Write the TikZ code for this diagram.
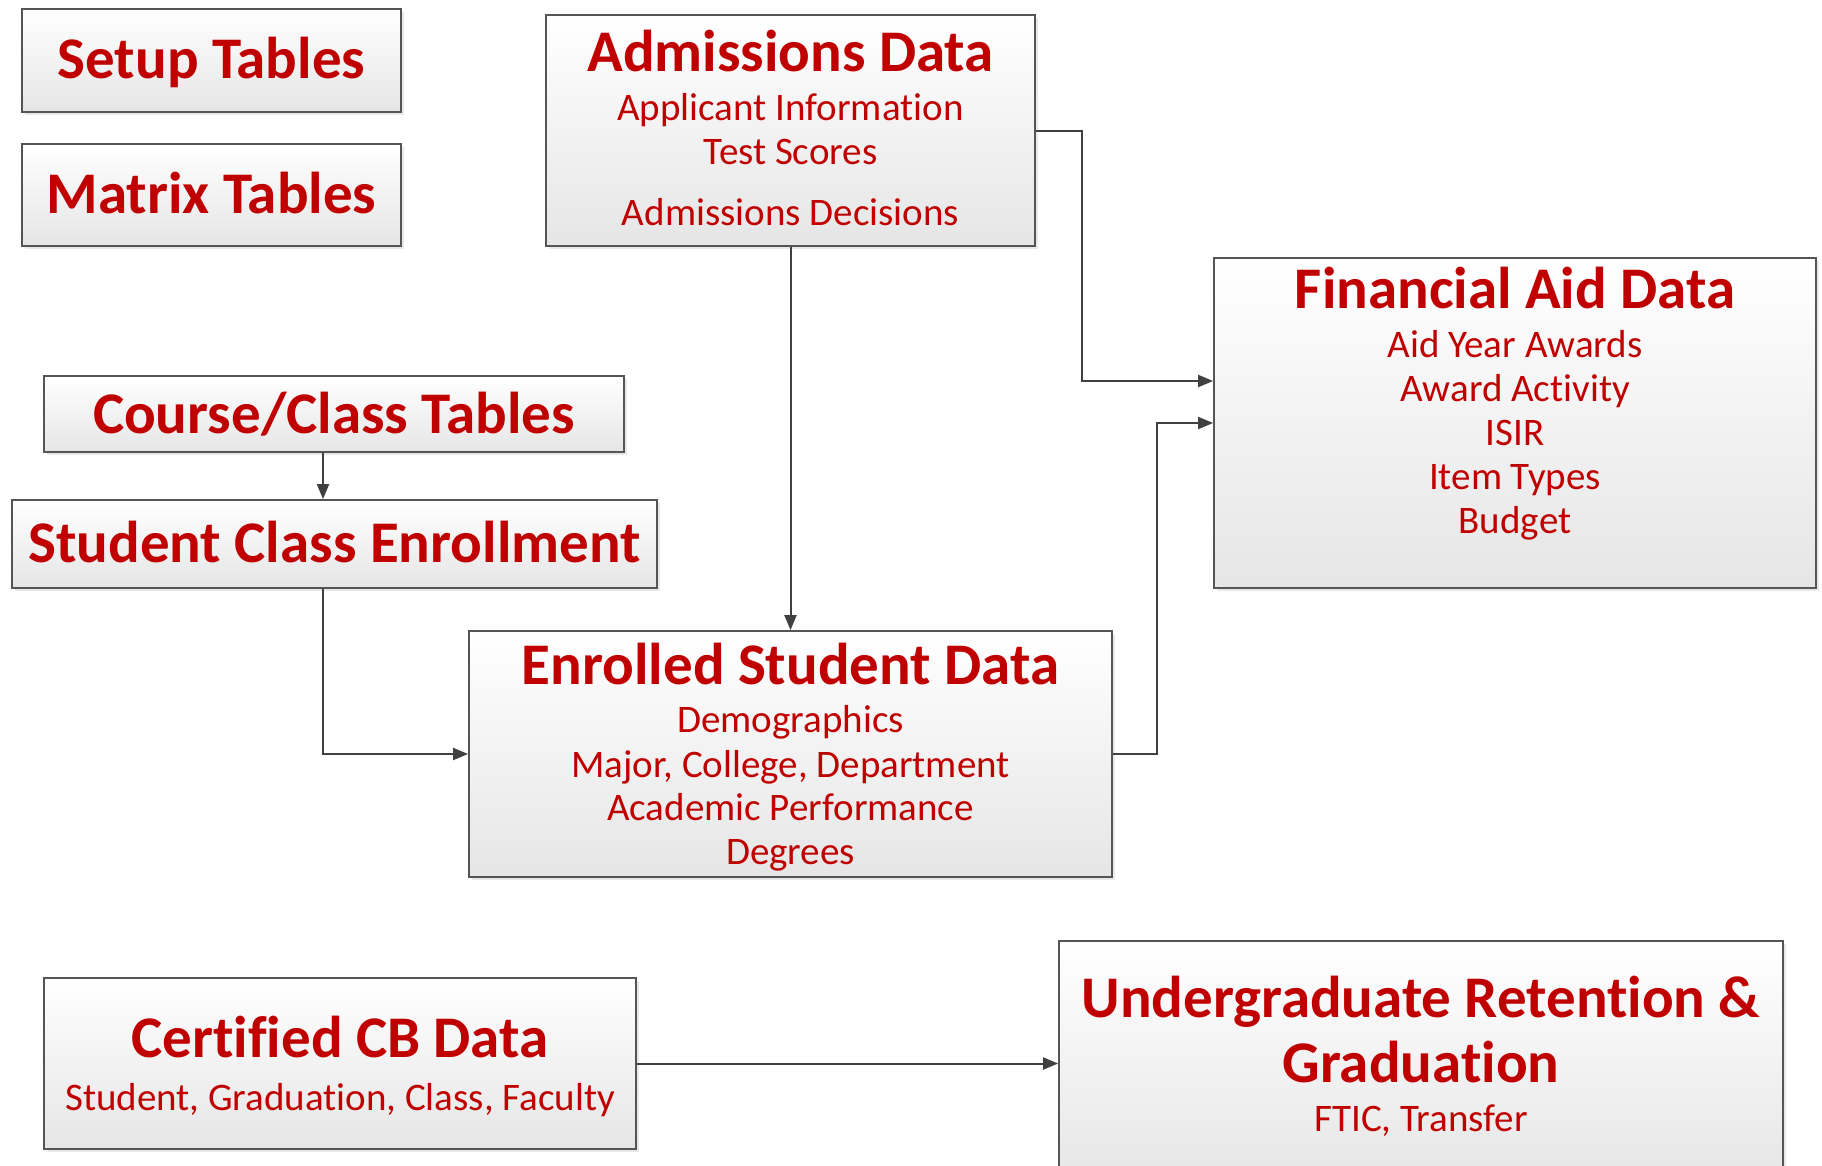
\documentclass[tikz,border=0pt]{standalone}
\usepackage{fontspec}
\setmainfont{Carlito}[Ligatures={NoCommon}]
\usetikzlibrary{arrows.meta,shadows}
\definecolor{txtred}{RGB}{192,0,0}
\definecolor{edgegray}{RGB}{85,85,85}
\definecolor{arrgray}{RGB}{64,64,64}
\tikzset{
  box/.style={draw=edgegray, line width=1.8pt, top color=white, bottom color=black!10,
    inner sep=0pt, drop shadow={opacity=0.18, shadow xshift=3pt, shadow yshift=-3pt}},
  ttl/.style={text=txtred, font=\fontsize{59}{60}\selectfont\bfseries, anchor=base, inner sep=0pt},
  sub/.style={text=txtred, font=\fontsize{39}{40}\selectfont, anchor=base, inner sep=0pt},
  conn/.style={draw=arrgray, line width=2pt, -{Triangle[length=15pt,width=12pt]}},
}
\begin{document}
\begin{tikzpicture}[x=1pt,y=-1pt]
\useasboundingbox (0,0) rectangle (1822,1165);
% boxes
\node[box, minimum width=379pt, minimum height=103pt] (setup) at (211.5,60.5) {};
\node[box, minimum width=379pt, minimum height=102pt] (matrix) at (211.5,195) {};
\node[box, minimum width=489pt, minimum height=231pt] (adm) at (790.5,130.5) {};
\node[box, minimum width=602pt, minimum height=330pt] (fin) at (1515,423) {};
\node[box, minimum width=580pt, minimum height=76pt] (course) at (334,414) {};
\node[box, minimum width=645pt, minimum height=88pt] (sce) at (334.5,544) {};
\node[box, minimum width=643pt, minimum height=246pt] (enr) at (790.5,754) {};
\node[box, minimum width=592pt, minimum height=171pt] (cert) at (340,1063.5) {};
\node[box, minimum width=724pt, minimum height=244pt] (ug) at (1421,1063) {};
% texts
\node[ttl] (setupT) at (211.5,78) {Setup Tables};
\node[ttl] (matrixT) at (211.5,213) {Matrix Tables};
\node[ttl] (admT) at (790.5,71) {Admissions Data};
\node[sub] (adm1) at (790.5,120) {Applicant Information};
\node[sub] (adm2) at (790.5,164) {Test Scores};
\node[sub] (adm3) at (790.5,225) {Admissions Decisions};
\node[ttl] (finT) at (1515,308) {Financial Aid Data};
\node[sub] (fin1) at (1515,357) {Aid Year Awards};
\node[sub] (fin2) at (1515,401) {Award Activity};
\node[sub] (fin3) at (1515,445) {ISIR};
\node[sub] (fin4) at (1515,489) {Item Types};
\node[sub] (fin5) at (1515,533) {Budget};
\node[ttl] (courseT) at (334,433) {Course/Class Tables};
\node[ttl] (sceT) at (334.5,562) {Student Class Enrollment};
\node[ttl] (enrT) at (790.5,684) {Enrolled Student Data};
\node[sub] (enr1) at (790.5,732) {Demographics};
\node[sub] (enr2) at (790.5,777) {Major, College, Department};
\node[sub] (enr3) at (790.5,820) {Academic Performance};
\node[sub] (enr4) at (790.5,864) {Degrees};
\node[ttl] (certT) at (340,1057) {Certified CB Data};
\node[sub] (cert1) at (340,1110) {Student, Graduation, Class, Faculty};
\node[ttl] (ugT1) at (1421,1017) {Undergraduate Retention \&};
\node[ttl] (ugT2) at (1421,1082) {Graduation};
\node[sub] (ug1) at (1421,1131) {FTIC, Transfer};
% connectors
\draw[conn] (adm.south) -- (enr.north);
\draw[conn] (adm.east) -- ++(46,0) |- ([yshift=42pt]fin.west);
\draw[conn] (enr.east) -- ++(44,0) |- (fin.west);
\draw[conn] ([xshift=-11pt]course.south) -- ([xshift=-11pt]course.south |- sce.north);
\draw[conn] ([xshift=-11.5pt]sce.south) |- (enr.west);
\draw[conn] (cert.east) -- (cert.east -| ug.west);
\end{tikzpicture}
\end{document}
